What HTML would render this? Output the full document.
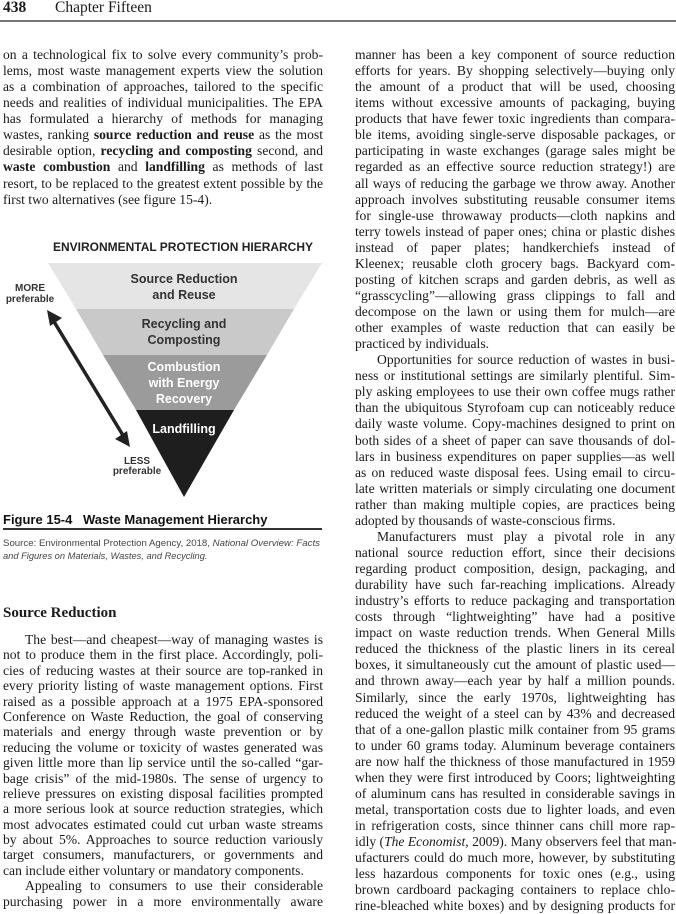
<!DOCTYPE html>
<html><head><meta charset="utf-8"><style>
*{margin:0;padding:0}
body{width:676px;height:914px;background:#fff;position:relative;overflow:hidden;font-family:"Liberation Serif",serif;color:#1a1a1a}
.col{position:absolute;width:320px;font-size:13.6px}
.col div{white-space:nowrap;text-align:justify;text-align-last:justify;height:var(--lh);line-height:var(--lh)}
.col div.e{text-align-last:left}
.col div.i{padding-left:22px}
b{font-weight:bold}
</style></head><body>
<div style="position:absolute;left:3px;top:-1px;font-size:15.5px;line-height:18px"><b>438</b><span style="position:absolute;left:52px;white-space:nowrap">Chapter Fifteen</span></div>
<div style="position:absolute;left:0;top:20px;width:676px;height:2px;background:#777"></div>

<div class="col" style="left:3px;top:47px;--lh:16.07px">
<div>on a technological fix to solve every community’s prob-</div>
<div>lems, most waste management experts view the solution</div>
<div>as a combination of approaches, tailored to the specific</div>
<div>needs and realities of individual municipalities. The EPA</div>
<div>has formulated a hierarchy of methods for managing</div>
<div>wastes, ranking <b>source reduction and reuse</b> as the most</div>
<div>desirable option, <b>recycling and composting</b> second, and</div>
<div><b>waste combustion</b> and <b>landfilling</b> as methods of last</div>
<div>resort, to be replaced to the greatest extent possible by the</div>
<div class="e">first two alternatives (see figure 15-4).</div>
</div>

<svg style="position:absolute;left:0;top:0" width="340" height="570" font-family="Liberation Sans, sans-serif">
<text x="183" y="251" text-anchor="middle" font-weight="bold" font-size="12" fill="#222" textLength="260" lengthAdjust="spacingAndGlyphs">ENVIRONMENTAL PROTECTION HIERARCHY</text>
<polygon points="48,263 322,263 294,309 76,309" fill="#e5e5e5"/>
<polygon points="76,309 294,309 267,355 103,355" fill="#c9c9c9"/>
<polygon points="103,355 267,355 234,410 136,410" fill="#9b9b9b"/>
<polygon points="136,410 234,410 184,497" fill="#1e1e1e"/>
<g font-weight="bold" font-size="12.5" text-anchor="middle">
<text x="184" y="283" fill="#333">Source Reduction</text>
<text x="184" y="299" fill="#333">and Reuse</text>
<text x="184" y="328" fill="#333">Recycling and</text>
<text x="184" y="344" fill="#333">Composting</text>
<text x="184" y="371" fill="#fff">Combustion</text>
<text x="184" y="387" fill="#fff">with Energy</text>
<text x="184" y="403" fill="#fff">Recovery</text>
<text x="184" y="433" fill="#fff">Landfilling</text>
</g>
<g font-weight="bold" font-size="10" text-anchor="middle" fill="#333">
<text x="30" y="291">MORE</text>
<text x="30" y="302">preferable</text>
<text x="137" y="464">LESS</text>
<text x="137" y="474">preferable</text>
</g>
<line x1="53" y1="320" x2="124" y2="437" stroke="#222" stroke-width="3.5"/>
<polygon points="47,310 62,318 50,326" fill="#222"/>
<polygon points="130,447 115,439 127,431" fill="#222"/>
<text x="3" y="524" font-weight="bold" font-size="13" fill="#111">Figure 15-4</text>
<text x="83" y="524" font-weight="bold" font-size="13" fill="#111">Waste Management Hierarchy</text>
<rect x="3" y="528" width="319" height="2" fill="#333"/>
<text x="3" y="546" font-size="9.3" fill="#444" textLength="317" lengthAdjust="spacingAndGlyphs">Source: Environmental Protection Agency, 2018, <tspan font-style="italic">National Overview: Facts</tspan></text>
<text x="3" y="559" font-size="9.3" fill="#444" font-style="italic">and Figures on Materials, Wastes, and Recycling.</text>
</svg>

<div style="position:absolute;left:3px;top:603px;font-size:15px;font-weight:bold;line-height:20px">Source Reduction</div>
<div class="col" style="left:3px;top:632px;--lh:15.4px">
<div class="i">The best—and cheapest—way of managing wastes is</div>
<div>not to produce them in the first place. Accordingly, poli-</div>
<div>cies of reducing wastes at their source are top-ranked in</div>
<div>every priority listing of waste management options. First</div>
<div>raised as a possible approach at a 1975 EPA-sponsored</div>
<div>Conference on Waste Reduction, the goal of conserving</div>
<div>materials and energy through waste prevention or by</div>
<div>reducing the volume or toxicity of wastes generated was</div>
<div>given little more than lip service until the so-called “gar-</div>
<div>bage crisis” of the mid-1980s. The sense of urgency to</div>
<div>relieve pressures on existing disposal facilities prompted</div>
<div>a more serious look at source reduction strategies, which</div>
<div>most advocates estimated could cut urban waste streams</div>
<div>by about 5%. Approaches to source reduction variously</div>
<div>target consumers, manufacturers, or governments and</div>
<div class="e">can include either voluntary or mandatory components.</div>
<div class="i">Appealing to consumers to use their considerable</div>
<div>purchasing power in a more environmentally aware</div>
</div>

<div class="col" style="left:355px;top:47px;--lh:16.07px">
<div>manner has been a key component of source reduction</div>
<div>efforts for years. By shopping selectively—buying only</div>
<div>the amount of a product that will be used, choosing</div>
<div>items without excessive amounts of packaging, buying</div>
<div>products that have fewer toxic ingredients than compara-</div>
<div>ble items, avoiding single-serve disposable packages, or</div>
<div>participating in waste exchanges (garage sales might be</div>
<div>regarded as an effective source reduction strategy!) are</div>
<div>all ways of reducing the garbage we throw away. Another</div>
<div>approach involves substituting reusable consumer items</div>
<div>for single-use throwaway products—cloth napkins and</div>
<div>terry towels instead of paper ones; china or plastic dishes</div>
<div>instead of paper plates; handkerchiefs instead of</div>
<div>Kleenex; reusable cloth grocery bags. Backyard com-</div>
<div>posting of kitchen scraps and garden debris, as well as</div>
<div>“grasscycling”—allowing grass clippings to fall and</div>
<div>decompose on the lawn or using them for mulch—are</div>
<div>other examples of waste reduction that can easily be</div>
<div class="e">practiced by individuals.</div>
<div class="i">Opportunities for source reduction of wastes in busi-</div>
<div>ness or institutional settings are similarly plentiful. Sim-</div>
<div>ply asking employees to use their own coffee mugs rather</div>
<div>than the ubiquitous Styrofoam cup can noticeably reduce</div>
<div>daily waste volume. Copy-machines designed to print on</div>
<div>both sides of a sheet of paper can save thousands of dol-</div>
<div>lars in business expenditures on paper supplies—as well</div>
<div>as on reduced waste disposal fees. Using email to circu-</div>
<div>late written materials or simply circulating one document</div>
<div>rather than making multiple copies, are practices being</div>
<div class="e">adopted by thousands of waste-conscious firms.</div>
<div class="i">Manufacturers must play a pivotal role in any</div>
<div>national source reduction effort, since their decisions</div>
<div>regarding product composition, design, packaging, and</div>
<div>durability have such far-reaching implications. Already</div>
<div>industry’s efforts to reduce packaging and transportation</div>
<div>costs through “lightweighting” have had a positive</div>
<div>impact on waste reduction trends. When General Mills</div>
<div>reduced the thickness of the plastic liners in its cereal</div>
<div>boxes, it simultaneously cut the amount of plastic used—</div>
<div>and thrown away—each year by half a million pounds.</div>
<div>Similarly, since the early 1970s, lightweighting has</div>
<div>reduced the weight of a steel can by 43% and decreased</div>
<div>that of a one-gallon plastic milk container from 95 grams</div>
<div>to under 60 grams today. Aluminum beverage containers</div>
<div>are now half the thickness of those manufactured in 1959</div>
<div>when they were first introduced by Coors; lightweighting</div>
<div>of aluminum cans has resulted in considerable savings in</div>
<div>metal, transportation costs due to lighter loads, and even</div>
<div>in refrigeration costs, since thinner cans chill more rap-</div>
<div>idly (<i>The Economist</i>, 2009). Many observers feel that man-</div>
<div>ufacturers could do much more, however, by substituting</div>
<div>less hazardous components for toxic ones (e.g., using</div>
<div>brown cardboard packaging containers to replace chlo-</div>
<div>rine-bleached white boxes) and by designing products for</div>
</div>
</body></html>
